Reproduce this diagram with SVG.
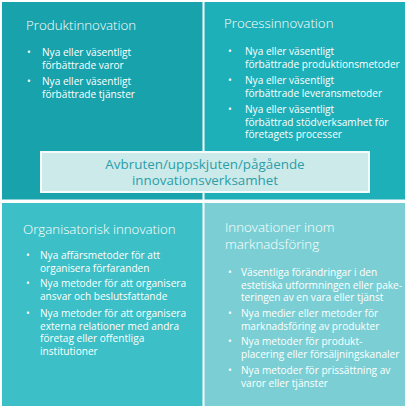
<svg xmlns="http://www.w3.org/2000/svg" width="407" height="408" viewBox="0 0 407 408">
<style>
.t{font-family:"Open Sans","Noto Sans",sans-serif;font-weight:300;font-size:13.3px;fill:#fff}
.b{font-family:"Open Sans","Noto Sans",sans-serif;font-size:10.1px;fill:#fff}
.c{font-family:"Open Sans","Noto Sans",sans-serif;font-size:13.4px;fill:#2a9ea8;text-anchor:middle}
</style>
<rect width="407" height="408" fill="#fff"/>
<g id="produktinnovation">
<rect x="2" y="2" width="200.5" height="197.5" fill="#18a2ac"/>
<text class="t" x="26" y="30">Produktinnovation</text>
<g class="b">
<text x="27" y="56">•</text><text x="42" y="56">Nya eller väsentligt</text><text x="42" y="68.5">förbättrade varor</text>
<text x="27" y="85">•</text><text x="42" y="85">Nya eller väsentligt</text><text x="42" y="97.5">förbättrade tjänster</text>
</g>
</g>
<g id="processinnovation">
<rect x="204.5" y="2" width="200.5" height="197.5" fill="#1eb0b8"/>
<text class="t" x="224" y="28">Processinnovation</text>
<g class="b">
<text x="228" y="55">•</text><text x="245" y="55">Nya eller väsentligt</text><text x="245" y="67.5">förbättrade produktionsmetoder</text>
<text x="228" y="84">•</text><text x="245" y="84">Nya eller väsentligt</text><text x="245" y="96.5">förbättrade leveransmetoder</text>
<text x="228" y="113">•</text><text x="245" y="113">Nya eller väsentligt</text><text x="245" y="125.5">förbättrad stödverksamhet för</text><text x="245" y="138">företagets processer</text>
</g>
</g>
<g id="organisatorisk">
<rect x="2" y="203" width="200.5" height="203" fill="#3cbfc6"/>
<text class="t" x="23" y="234">Organisatorisk innovation</text>
<g class="b">
<text x="26" y="259">•</text><text x="40" y="259">Nya affärsmetoder för att</text><text x="40" y="271.5">organisera förfaranden</text>
<text x="26" y="287">•</text><text x="40" y="287">Nya metoder för att organisera</text><text x="40" y="299.5">ansvar och beslutsfattande</text>
<text x="26" y="317">•</text><text x="40" y="317">Nya metoder för att organisera</text><text x="40" y="329.5">externa relationer med andra</text><text x="40" y="342">företag eller offentliga</text><text x="40" y="354.5">institutioner</text>
</g>
</g>
<g id="marknadsforing">
<rect x="204.5" y="203" width="200.5" height="203" fill="#7bcfd4"/>
<text class="t" x="225" y="232">Innovationer inom</text>
<text class="t" x="225" y="249">marknadsföring</text>
<g class="b">
<text x="228" y="276">•</text><text x="241" y="276">Väsentliga förändringar i den</text><text x="241" y="288.5">estetiska utformningen eller pake-</text><text x="241" y="301">teringen av en vara eller tjänst</text>
<text x="228" y="317">•</text><text x="241" y="317">Nya medier eller metoder för</text><text x="241" y="329.5">marknadsföring av produkter</text>
<text x="228" y="345">•</text><text x="241" y="345">Nya metoder för produkt-</text><text x="241" y="357.5">placering  eller försäljningskanaler</text>
<text x="228" y="374">•</text><text x="241" y="374">Nya metoder för prissättning av</text><text x="241" y="386.5">varor eller tjänster</text>
</g>
</g>
<g id="avbruten">
<rect x="41" y="152" width="328" height="40" fill="#cdeaea" stroke="#f4fbfb" stroke-width="2"/>
<text class="c" x="205" y="168.5">Avbruten/uppskjuten/pågående</text>
<text class="c" x="205" y="185">innovationsverksamhet</text>
</g>
<g id="connectors"/>
</svg>
